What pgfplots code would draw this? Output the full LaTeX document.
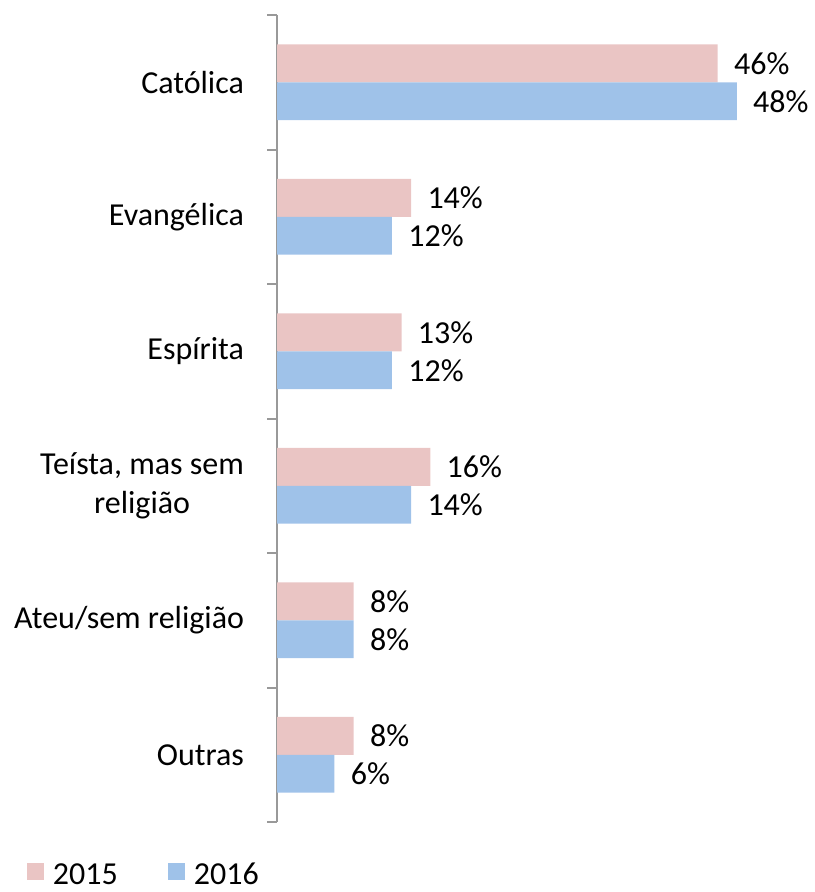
\documentclass[border=0pt]{standalone}
\usepackage{fontspec}
\setmainfont{Carlito}
\usepackage{pgfplots}
\pgfplotsset{compat=1.18}
\definecolor{c15}{RGB}{234,197,196}
\definecolor{c16}{RGB}{159,194,233}
\definecolor{axgray}{RGB}{153,153,153}
\begin{document}
\begin{tikzpicture}[font=\fontsize{16pt}{19.5pt}\selectfont]
\useasboundingbox (0,0) rectangle (407pt,446pt);
\begin{axis}[
  at={(138.5pt,35pt)}, anchor=south west,
  scale only axis, width=239.5pt, height=403.5pt,
  xbar, xmin=0, xmax=50, ymin=-0.5, ymax=5.5, y dir=reverse,
  hide x axis,
  axis y line*=left,
  y axis line style={-, draw=axgray, line width=1pt},
  ytick={0,...,5},
  yticklabels={Católica, Evangélica, Espírita, {Teísta, mas sem\\religião}, Ateu/sem religião, Outras},
  major tick length=0pt,
  minor ytick={-0.5,0.5,...,5.5},
  minor tick length=5pt,
  tick align=outside,
  ytick style={draw=axgray, line width=1pt},
  yticklabel style={align=center, xshift=-13pt},
  bar width=0.2825,
  nodes near coords={\pgfmathprintnumber{\pgfplotspointmeta}\%},
  every node near coord/.append style={anchor=west, inner sep=0pt, xshift=8pt},
  /pgf/number format/assume math mode=true,
  legend columns=2,
  legend style={draw=none, fill=none, inner sep=0pt, outer sep=0pt,
    at={(axis description cs:-0.522,-0.078)}, anchor=south west,
    /tikz/every even column/.append style={column sep=25pt},
    nodes={inner sep=0pt, text depth=0pt}},
  legend image code/.code={\fill[#1] (0pt,-3pt) rectangle (8.5pt,5.5pt);},
]
\addplot[fill=c15, draw=none, bar shift=-0.1412] coordinates {(46,0) (14,1) (13,2) (16,3) (8,4) (8,5)};
\addlegendentry{\hspace{4.5pt}2015}
\addplot[fill=c16, draw=none, bar shift=0.1412] coordinates {(48,0) (12,1) (12,2) (14,3) (8,4) (6,5)};
\addlegendentry{\hspace{4.5pt}2016}
\end{axis}
\end{tikzpicture}
\end{document}
